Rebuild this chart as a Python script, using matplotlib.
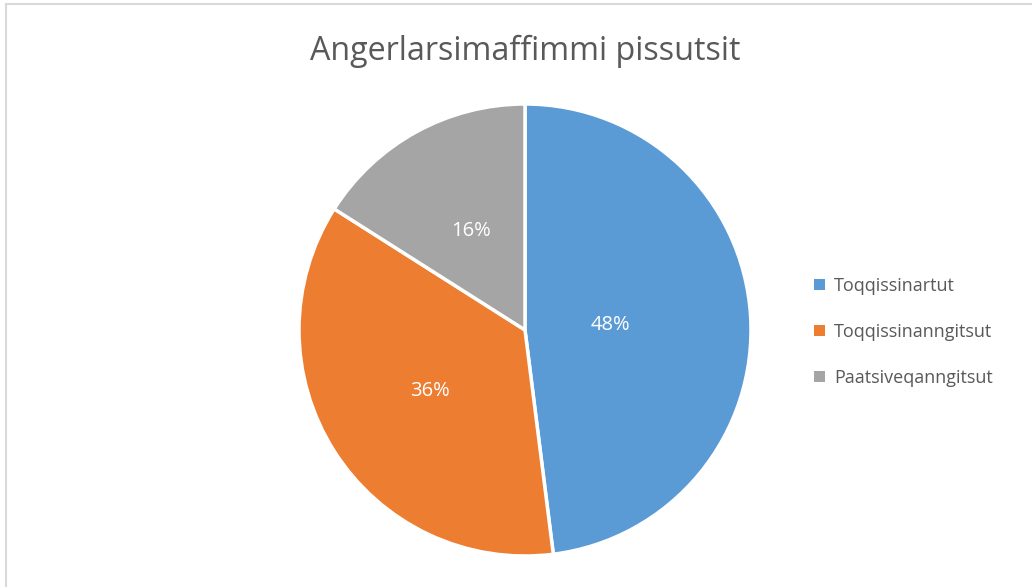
import matplotlib.pyplot as plt
from matplotlib.lines import Line2D

labels = ["Toqqissinartut", "Toqqissinanngitsut", "Paatsiveqanngitsut"]
values = [48, 36, 16]
colors = ["#5B9BD5", "#ED7D31", "#A5A5A5"]
title = "Angerlarsimaffimmi pissutsit"

plt.rcParams['font.family'] = ['Open Sans', 'DejaVu Sans']

fig = plt.figure(figsize=(10.32, 5.87), dpi=100)
W, H = 1032, 587

# frame lines (top and left only visible)
fig.add_artist(Line2D([6 / W, 6 / W], [0, 1 - 4 / H], color="#D9D9D9", lw=1.5))
fig.add_artist(Line2D([6 / W, 1], [1 - 4 / H, 1 - 4 / H], color="#D9D9D9", lw=1.5))

cx, cy, r = 525, 330, 226
ax = fig.add_axes([(cx - r) / W, (H - cy - r) / H, 2 * r / W, 2 * r / H])
wedges, texts, autotexts = ax.pie(
    values, colors=colors, startangle=90, counterclock=False,
    autopct=lambda p: f"{p:.0f}%", pctdistance=0.5,
    wedgeprops=dict(edgecolor="white", linewidth=2.5),
    textprops=dict(color="white", fontsize=14.5))
# Excel puts the large slice's label closer in
x, y = autotexts[0].get_position()
autotexts[0].set_position((x * 0.76, y * 0.76))
ax.set_xlim(-1, 1)
ax.set_ylim(-1, 1)
ax.set_aspect("equal")

fig.text(cx / W, 1 - 51 / H, title, ha="center", va="center",
         fontsize=23.2, color="#595959")

leg = fig.legend(wedges, labels, loc="center left",
                 bbox_to_anchor=(798 / W, 1 - 332 / H),
                 frameon=False, fontsize=13, handlelength=0.6,
                 handleheight=0.6, handletextpad=0.5, labelspacing=1.55,
                 labelcolor="#595959")
for h in leg.legend_handles:
    h.set_edgecolor("none")

fig.savefig("out.png", dpi=100)
